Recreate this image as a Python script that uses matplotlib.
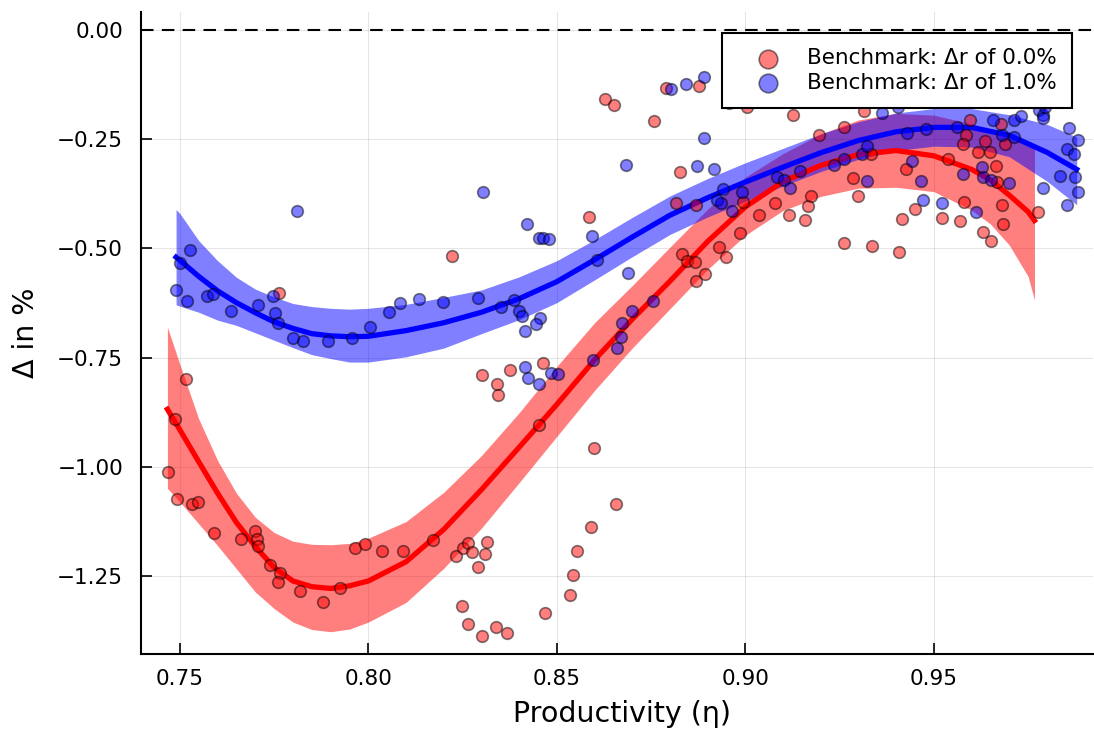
import matplotlib
matplotlib.use("Agg")
import matplotlib.pyplot as plt

# scatter data: benchmark dr = 0.0%
red_x = [0.7468, 0.7487, 0.7516, 0.7492, 0.7532, 0.7548, 0.7590, 0.7662, 0.7699, 0.7704,
         0.7707, 0.7739, 0.7765, 0.7760, 0.7818, 0.7879, 0.7924, 0.7964, 0.7991, 0.8036,
         0.8092, 0.8171, 0.8232, 0.8251, 0.8264, 0.8275, 0.8290, 0.8314, 0.8309, 0.8248,
         0.8264, 0.8301, 0.8338, 0.8367, 0.8468, 0.8534, 0.8542, 0.8553, 0.8590, 0.8656,
         0.8598, 0.8452, 0.8301, 0.8341, 0.8344, 0.8375, 0.8463, 0.7763, 0.8222, 0.8585,
         0.8627, 0.8651, 0.8757, 0.8789, 0.8877, 0.8826, 0.8816, 0.8869, 0.8993, 0.9036,
         0.9078, 0.9115, 0.9158, 0.9166, 0.9174, 0.9195, 0.9261, 0.9285, 0.9298, 0.9333,
         0.9314, 0.9426, 0.9415, 0.9450, 0.9261, 0.9336, 0.9407, 0.9537, 0.9595, 0.9585,
         0.9577, 0.9521, 0.9580, 0.9569, 0.9630, 0.9651, 0.9617, 0.9635, 0.9649, 0.9664,
         0.9667, 0.9680, 0.9683, 0.9678, 0.9688, 0.9776, 0.9004, 0.8956, 0.9127, 0.8985,
         0.8930, 0.8950, 0.8831, 0.8845, 0.8867, 0.8870, 0.8893]
red_y = [-1.011, -0.890, -0.799, -1.073, -1.085, -1.080, -1.151, -1.165, -1.146, -1.165,
         -1.181, -1.224, -1.243, -1.263, -1.284, -1.309, -1.277, -1.185, -1.176, -1.192,
         -1.192, -1.167, -1.204, -1.185, -1.174, -1.195, -1.229, -1.172, -1.199, -1.318,
         -1.359, -1.387, -1.366, -1.380, -1.334, -1.293, -1.247, -1.192, -1.137, -1.085,
         -0.957, -0.904, -0.789, -0.810, -0.835, -0.778, -0.762, -0.602, -0.517, -0.428,
         -0.158, -0.172, -0.208, -0.133, -0.128, -0.325, -0.396, -0.400, -0.394, -0.423,
         -0.396, -0.423, -0.435, -0.403, -0.380, -0.240, -0.222, -0.339, -0.380, -0.284,
         -0.185, -0.318, -0.432, -0.410, -0.487, -0.494, -0.508, -0.295, -0.206, -0.240,
         -0.261, -0.430, -0.394, -0.437, -0.462, -0.483, -0.279, -0.254, -0.279, -0.311,
         -0.348, -0.400, -0.444, -0.215, -0.261, -0.416, -0.176, -0.167, -0.195, -0.465,
         -0.497, -0.520, -0.513, -0.529, -0.532, -0.574, -0.558]

# scatter data: benchmark dr = 1.0%
blue_x = [0.7527, 0.7500, 0.7489, 0.7519, 0.7572, 0.7588, 0.7635, 0.7707, 0.7747, 0.7752,
          0.7760, 0.7800, 0.7826, 0.7893, 0.7956, 0.8004, 0.8054, 0.8084, 0.8134, 0.8198,
          0.8290, 0.8351, 0.8386, 0.8399, 0.8407, 0.8415, 0.8455, 0.8444, 0.7810, 0.8304,
          0.8420, 0.8452, 0.8463, 0.8479, 0.8593, 0.8606, 0.8415, 0.8423, 0.8452, 0.8484,
          0.8503, 0.8595, 0.8659, 0.8670, 0.8672, 0.8699, 0.8755, 0.8683, 0.8802, 0.8842,
          0.8890, 0.8890, 0.8871, 0.8916, 0.8940, 0.8924, 0.8935, 0.8991, 0.9084, 0.9102,
          0.9118, 0.9145, 0.9235, 0.9322, 0.9309, 0.9322, 0.9362, 0.9405, 0.9429, 0.9479,
          0.9466, 0.9471, 0.9561, 0.9577, 0.9521, 0.9611, 0.9627, 0.9699, 0.9656, 0.9680,
          0.9712, 0.9731, 0.9712, 0.9789, 0.9778, 0.9789, 0.9789, 0.9794, 0.9858, 0.9853,
          0.9882, 0.9871, 0.9834, 0.9874, 0.9882, 0.9853, 0.8690, 0.9261, 0.9442, 0.9630,
          0.9651, 0.8964]
blue_y = [-0.503, -0.533, -0.595, -0.620, -0.609, -0.604, -0.643, -0.629, -0.609, -0.648,
          -0.670, -0.705, -0.712, -0.712, -0.705, -0.680, -0.645, -0.625, -0.616, -0.622,
          -0.613, -0.634, -0.618, -0.643, -0.654, -0.689, -0.659, -0.673, -0.414, -0.371,
          -0.444, -0.476, -0.476, -0.478, -0.471, -0.526, -0.771, -0.796, -0.810, -0.785,
          -0.787, -0.755, -0.728, -0.703, -0.670, -0.643, -0.620, -0.309, -0.135, -0.124,
          -0.108, -0.247, -0.311, -0.318, -0.364, -0.389, -0.396, -0.371, -0.336, -0.343,
          -0.362, -0.323, -0.309, -0.346, -0.284, -0.265, -0.190, -0.176, -0.236, -0.227,
          -0.346, -0.389, -0.222, -0.330, -0.396, -0.416, -0.314, -0.350, -0.206, -0.240,
          -0.206, -0.197, -0.245, -0.362, -0.183, -0.195, -0.201, -0.176, -0.224, -0.272,
          -0.252, -0.284, -0.334, -0.336, -0.371, -0.400, -0.557, -0.295, -0.300, -0.336,
          -0.343, -0.414]

# fitted curve and confidence band, dr = 0.0%
fit_red_x = [0.7467, 0.75, 0.755, 0.76, 0.765, 0.77, 0.775, 0.78, 0.785, 0.79, 0.795, 0.80,
             0.81, 0.82, 0.83, 0.84, 0.85, 0.86, 0.87, 0.88, 0.89, 0.90, 0.91, 0.92, 0.93,
             0.94, 0.95, 0.96, 0.965, 0.97, 0.975, 0.9767]
fit_red = [-0.868, -0.915, -0.988, -1.060, -1.127, -1.182, -1.230, -1.261, -1.274, -1.278,
           -1.272, -1.261, -1.217, -1.143, -1.052, -0.955, -0.857, -0.755, -0.662, -0.575,
           -0.484, -0.405, -0.347, -0.310, -0.285, -0.276, -0.288, -0.319, -0.343, -0.378,
           -0.416, -0.436]
red_hi = [-0.680, -0.765, -0.890, -0.985, -1.060, -1.115, -1.150, -1.170, -1.177, -1.178,
          -1.175, -1.163, -1.125, -1.058, -0.974, -0.876, -0.770, -0.670, -0.585, -0.497,
          -0.410, -0.337, -0.283, -0.238, -0.206, -0.191, -0.195, -0.215, -0.228, -0.243,
          -0.262, -0.267]
red_lo = [-1.049, -1.080, -1.130, -1.180, -1.233, -1.286, -1.324, -1.355, -1.372, -1.377,
          -1.371, -1.355, -1.310, -1.232, -1.140, -1.036, -0.930, -0.825, -0.728, -0.638,
          -0.548, -0.470, -0.413, -0.381, -0.362, -0.360, -0.370, -0.412, -0.444, -0.492,
          -0.564, -0.618]

# fitted curve and confidence band, dr = 1.0%
fit_blue_x = [0.749, 0.75, 0.755, 0.76, 0.765, 0.77, 0.775, 0.78, 0.785, 0.79, 0.795, 0.80,
              0.81, 0.82, 0.83, 0.84, 0.85, 0.86, 0.87, 0.88, 0.89, 0.90, 0.91, 0.92, 0.93,
              0.94, 0.95, 0.96, 0.97, 0.98, 0.9879]
fit_blue = [-0.520, -0.527, -0.564, -0.597, -0.624, -0.647, -0.668, -0.683, -0.695, -0.700,
            -0.702, -0.701, -0.688, -0.670, -0.646, -0.615, -0.576, -0.526, -0.474, -0.424,
            -0.384, -0.348, -0.314, -0.281, -0.253, -0.233, -0.223, -0.223, -0.241, -0.280,
            -0.319]
blue_hi = [-0.411, -0.420, -0.482, -0.528, -0.566, -0.593, -0.611, -0.626, -0.633, -0.637,
           -0.639, -0.637, -0.628, -0.612, -0.595, -0.565, -0.528, -0.480, -0.429, -0.380,
           -0.340, -0.304, -0.271, -0.238, -0.210, -0.190, -0.180, -0.180, -0.194, -0.216,
           -0.245]
blue_lo = [-0.629, -0.632, -0.646, -0.664, -0.676, -0.693, -0.710, -0.727, -0.743, -0.752,
           -0.760, -0.760, -0.748, -0.728, -0.695, -0.663, -0.624, -0.572, -0.519, -0.468,
           -0.428, -0.392, -0.357, -0.324, -0.296, -0.276, -0.266, -0.268, -0.290, -0.346,
           -0.400]

fig = plt.figure(figsize=(10.94, 7.29), dpi=100)
ax = fig.add_axes([0.1289, 0.1029, 0.8701, 0.8806])

ax.axhline(0, color="black", lw=1.5, ls=(0, (6, 4)), zorder=1)

ax.fill_between(fit_red_x, red_lo, red_hi, color="red", alpha=0.5, lw=0, zorder=2)
ax.fill_between(fit_blue_x, blue_lo, blue_hi, color="blue", alpha=0.5, lw=0, zorder=2)
ax.plot(fit_red_x, fit_red, color="red", lw=3.8, zorder=3)
ax.plot(fit_blue_x, fit_blue, color="blue", lw=3.8, zorder=3)

ax.scatter(red_x, red_y, s=70, facecolor=(1, 0, 0, 0.5), edgecolor=(0, 0, 0, 0.5),
           lw=1.2, zorder=4, label="Benchmark: \u0394r of 0.0%")
ax.scatter(blue_x, blue_y, s=70, facecolor=(0, 0, 1, 0.5), edgecolor=(0, 0, 0, 0.5),
           lw=1.2, zorder=4, label="Benchmark: \u0394r of 1.0%")

ax.set_xlim(0.7397, 0.9922)
ax.set_ylim(-1.428, 0.041)
ax.set_xticks([0.75, 0.80, 0.85, 0.90, 0.95])
ax.set_xticklabels(["0.75", "0.80", "0.85", "0.90", "0.95"])
ax.set_yticks([0.0, -0.25, -0.5, -0.75, -1.0, -1.25])
ax.set_yticklabels(["0.00", "\u22120.25", "\u22120.50", "\u22120.75", "\u22121.00", "\u22121.25"])
ax.grid(True, color="black", alpha=0.1, lw=0.8)
ax.set_axisbelow(True)
ax.tick_params(direction="in", length=8, width=1.2, labelsize=15.5)
ax.tick_params(axis="y", pad=13)
ax.tick_params(axis="x", pad=11)
for side in ["top", "right"]:
    ax.spines[side].set_visible(False)
for side in ["left", "bottom"]:
    ax.spines[side].set_linewidth(1.5)

ax.set_xlabel("Productivity (\u03b7)", fontsize=20.5, labelpad=6)
ax.set_ylabel("\u0394 in %", fontsize=20.5, labelpad=12)
ax.xaxis.set_label_coords(0.505, -0.072)

leg = ax.legend(loc="upper right", bbox_to_anchor=(0.978, 0.967), fontsize=15.5,
                markerscale=1.6, frameon=True, fancybox=False, framealpha=1,
                edgecolor="black", handlelength=2.9, handletextpad=0.35,
                borderpad=0.7, labelspacing=0.2, borderaxespad=0)
leg.get_frame().set_linewidth(1.5)

fig.savefig("out.png", dpi=100)
